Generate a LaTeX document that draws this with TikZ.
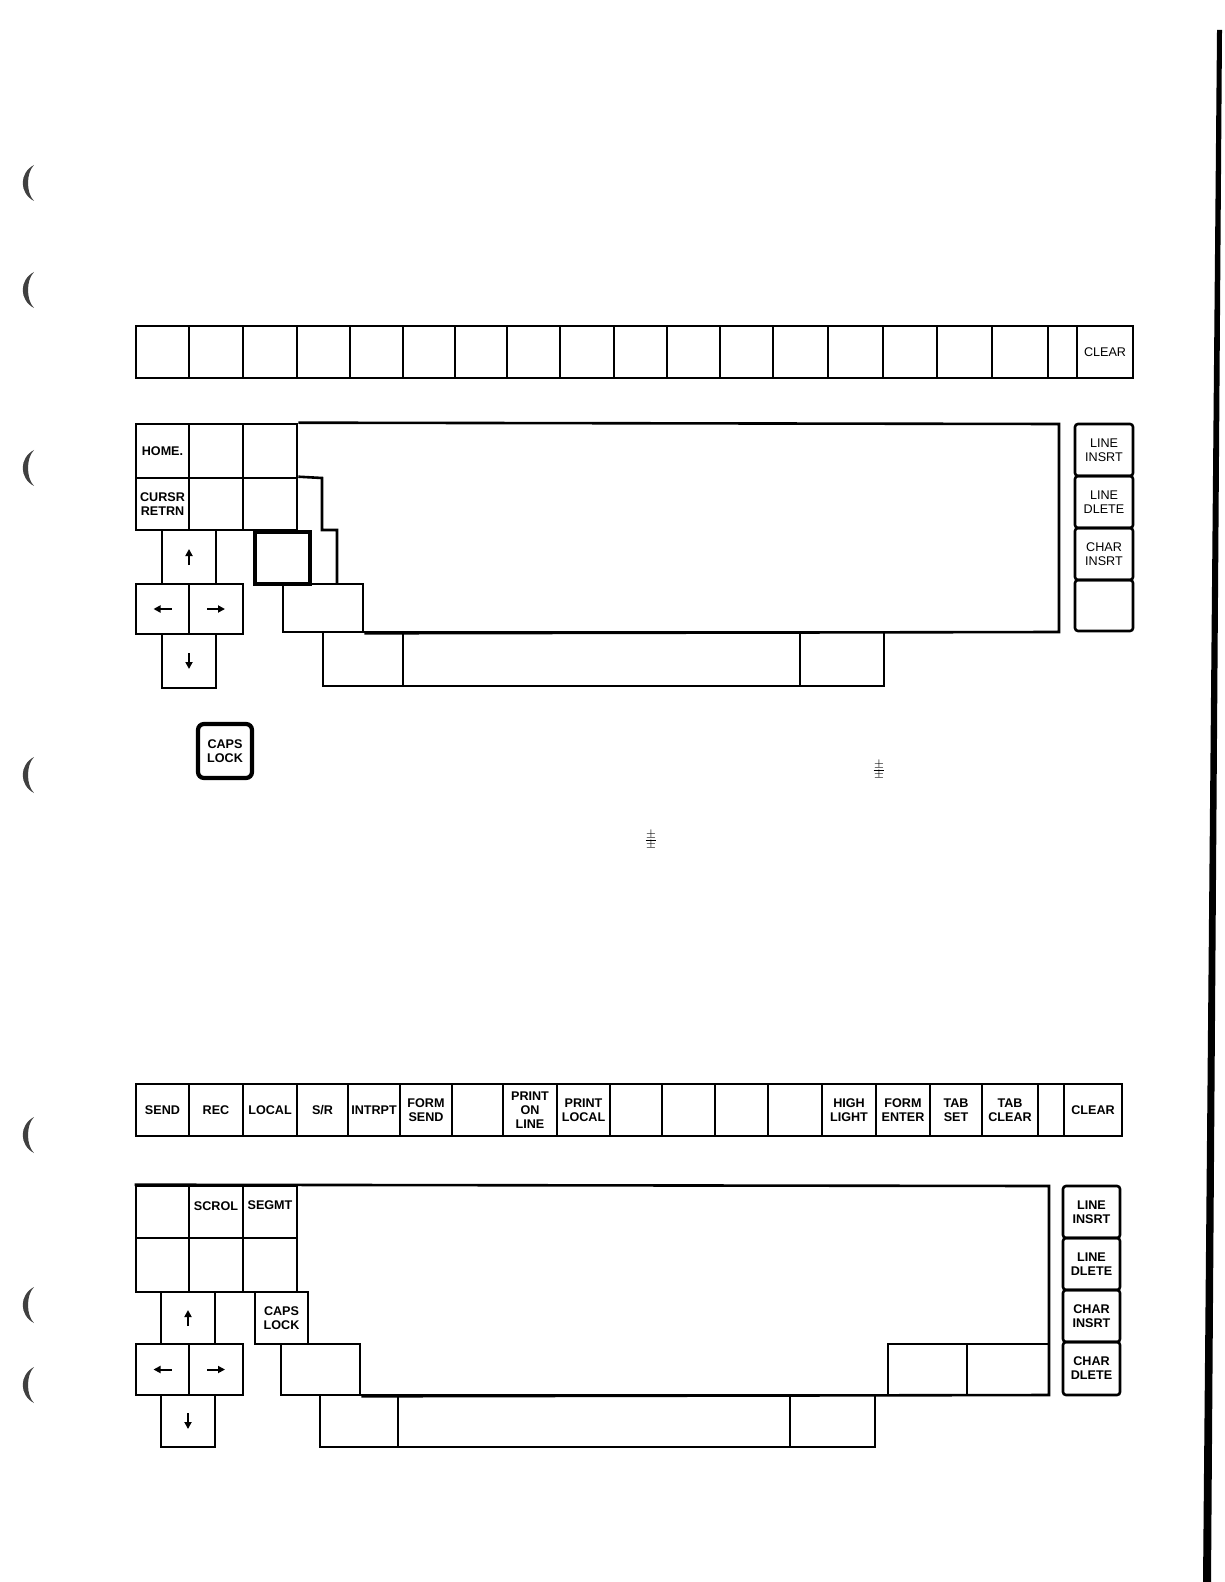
\documentclass[tikz,border=0pt]{standalone}
\usepackage{fontspec}
\setmainfont{Liberation Sans}
\usetikzlibrary{arrows.meta}
\newcommand\keybox[7][]{%
  \node[key,#1,minimum width={(#5-#3)*0.5pt},minimum height={(#6-#4)*0.5pt}]
    (#2) at ({(#3+#5)/2},{(#4+#6)/2}) {#7};}
\tikzset{
  key/.style={draw, rectangle, inner sep=0pt, line width=1.3pt, align=center,
    font=\fontsize{6.3}{7}\selectfont},
  boldkey/.style={font=\bfseries\fontsize{6.3}{7}\selectfont},
  heavy/.style={line width=2.1pt},
  side/.style={rounded corners=1.5pt},
  outline/.style={line width=1.3pt, line join=miter},
  arr/.style={line width=1pt, -{Triangle[length=3.5pt,width=3.5pt]}},
  punch/.style={fill=black!75},
  lbl/.style={inner sep=0pt, font=\bfseries\fontsize{6.3}{7}\selectfont},
}
\begin{document}
\begin{tikzpicture}[x=0.5pt,y=-0.5pt]
\fill[white] (0,0) rectangle (1224,1582);
\useasboundingbox (0,0) rectangle (1224,1582);

% ---------------- keyboard 1 ----------------
\foreach \a/\b [count=\i] in {136/189,189/243,243/297,297/350,350/403,403/455,455/507,507/560,560/614,614/667,667/720,720/773,773/828,828/883,883/937,937/992,992/1048,1048/1077}
  {\keybox{ta\i}{\a}{326}{\b}{378}{}}
\keybox{clear1}{1077}{326}{1133}{378}{CLEAR}

\keybox[boldkey]{home}{136}{424}{189}{478}{HOME.}
\keybox{k1b}{189}{424}{243}{478}{}
\keybox{k1c}{243}{424}{297}{478}{}
\keybox[boldkey]{cursr}{136}{478}{189}{530}{CURSR\\RETRN}
\keybox{k2b}{189}{478}{243}{530}{}
\keybox{k2c}{243}{478}{297}{530}{}
\keybox{up1}{162}{530}{216}{584}{}
\keybox[heavy]{bk1}{255}{532}{310}{584}{}
\keybox{left1}{136}{584}{189}{634}{}
\keybox{right1}{189}{584}{243}{634}{}
\keybox{k4a}{283}{584}{363}{632}{}
\keybox{down1}{162}{634}{216}{688}{}
\keybox{sp1a}{323}{632}{403}{686}{}
\keybox{sp1b}{403}{632}{800}{686}{}
\keybox{sp1c}{800}{632}{884}{686}{}
\draw[outline] (k2c.north east) -- (322,478) -- (322,530) -- (337,530) -- (337,584);
\draw[outline] (k1c.north east) -- (1059,424) -- (1059,632) -- (k4a.south east);

\keybox[side]{li1}{1075}{424}{1133}{476}{LINE\\INSRT}
\keybox[side]{ld1}{1075}{476}{1133}{528}{LINE\\DLETE}
\keybox[side]{ci1}{1075}{528}{1133}{580}{CHAR\\INSRT}
\keybox[side]{bl1}{1075}{580}{1133}{631}{}

\keybox[boldkey,heavy,rounded corners=3pt]{caps1}{198}{724}{252}{778}{CAPS\\LOCK}

\draw[arr] ([yshift=-4pt]up1.center) -- ([yshift=4pt]up1.center);
\draw[arr] ([yshift=4pt]down1.center) -- ([yshift=-4pt]down1.center);
\draw[arr] ([xshift=4.5pt]left1.center) -- ([xshift=-4.5pt]left1.center);
\draw[arr] ([xshift=-4.5pt]right1.center) -- ([xshift=4.5pt]right1.center);

% ---------------- keyboard 2 ----------------
\keybox[boldkey]{send}{136}{1084}{189}{1136}{SEND}
\keybox[boldkey]{rec}{189}{1084}{243}{1136}{REC}
\keybox[boldkey]{local}{243}{1084}{297}{1136}{LOCAL}
\keybox[boldkey]{sr}{297}{1084}{348}{1136}{S/R}
\keybox[boldkey]{intrpt}{348}{1084}{400}{1136}{INTRPT}
\keybox[boldkey]{fsend}{400}{1084}{452}{1136}{FORM\\SEND}
\keybox{tb7}{452}{1084}{503}{1136}{}
\keybox[boldkey]{pon}{503}{1084}{557}{1136}{PRINT\\ON\\LINE}
\keybox[boldkey]{ploc}{557}{1084}{610}{1136}{PRINT\\LOCAL}
\keybox{tb10}{610}{1084}{662}{1136}{}
\keybox{tb11}{662}{1084}{715}{1136}{}
\keybox{tb12}{715}{1084}{768}{1136}{}
\keybox{tb13}{768}{1084}{822}{1136}{}
\keybox[boldkey]{hl}{822}{1084}{876}{1136}{HIGH\\LIGHT}
\keybox[boldkey]{fent}{876}{1084}{930}{1136}{FORM\\ENTER}
\keybox[boldkey]{tset}{930}{1084}{982}{1136}{TAB\\SET}
\keybox[boldkey]{tclr}{982}{1084}{1038}{1136}{TAB\\CLEAR}
\keybox{tb18}{1038}{1084}{1064}{1136}{}
\keybox[boldkey]{clear2}{1064}{1084}{1122}{1136}{CLEAR}

\keybox{r1a}{136}{1186}{189}{1238}{}
\keybox{r1b}{189}{1186}{243}{1238}{}
\keybox{r1c}{243}{1186}{297}{1238}{}
\node[lbl] (scrol) at (216,1206) {SCROL};
\node[lbl] (segmt) at (270,1205) {SEGMT};
\keybox{r2a}{136}{1238}{189}{1292}{}
\keybox{r2b}{189}{1238}{243}{1292}{}
\keybox{r2c}{243}{1238}{297}{1292}{}
\keybox{up2}{161}{1292}{215}{1344}{}
\keybox[boldkey]{caps2}{255}{1292}{308}{1344}{CAPS\\LOCK}
\keybox{left2}{136}{1344}{189}{1395}{}
\keybox{right2}{189}{1344}{243}{1395}{}
\keybox{k24a}{281}{1344}{360}{1395}{}
\keybox{r4a}{888}{1344}{967}{1395}{}
\keybox{r4b}{967}{1344}{1049}{1395}{}
\keybox{down2}{161}{1395}{215}{1447}{}
\keybox{sp2a}{320}{1395}{398}{1447}{}
\keybox{sp2b}{398}{1395}{790}{1447}{}
\keybox{sp2c}{790}{1395}{875}{1447}{}
\draw[outline] (r1a.north west) -- (1049,1186) -- (1049,1395) -- (k24a.south east);

\keybox[side,boldkey]{li2}{1063}{1186}{1120}{1238}{LINE\\INSRT}
\keybox[side,boldkey]{ld2}{1063}{1238}{1120}{1290}{LINE\\DLETE}
\keybox[side,boldkey]{ci2}{1063}{1290}{1120}{1342}{CHAR\\INSRT}
\keybox[side,boldkey]{cd2}{1063}{1342}{1120}{1395}{CHAR\\DLETE}

\draw[arr] ([yshift=-4pt]up2.center) -- ([yshift=4pt]up2.center);
\draw[arr] ([yshift=4pt]down2.center) -- ([yshift=-4pt]down2.center);
\draw[arr] ([xshift=4.5pt]left2.center) -- ([xshift=-4.5pt]left2.center);
\draw[arr] ([xshift=-4.5pt]right2.center) -- ([xshift=4.5pt]right2.center);

% ---------------- page marks ----------------
\foreach \y in {183,290,468,775,1135,1305,1385}
  {\fill[punch] (34,\y-18) .. controls (19,\y-10) and (19,\y+10) .. (34,\y+18)
     .. controls (26,\y+10) and (26,\y-10) .. cycle;}
\fill[black] (1217,30) -- (1222,30) -- (1211,1582) -- (1203,1582) -- cycle;
\node[inner sep=0pt, font=\fontsize{4}{4}\selectfont] (m1) at (879,770) {$\frac{\pm}{\pm}$};
\node[inner sep=0pt, font=\fontsize{4}{4}\selectfont] (m2) at (651,840) {$\frac{\pm}{\pm}$};
\end{tikzpicture}
\end{document}
